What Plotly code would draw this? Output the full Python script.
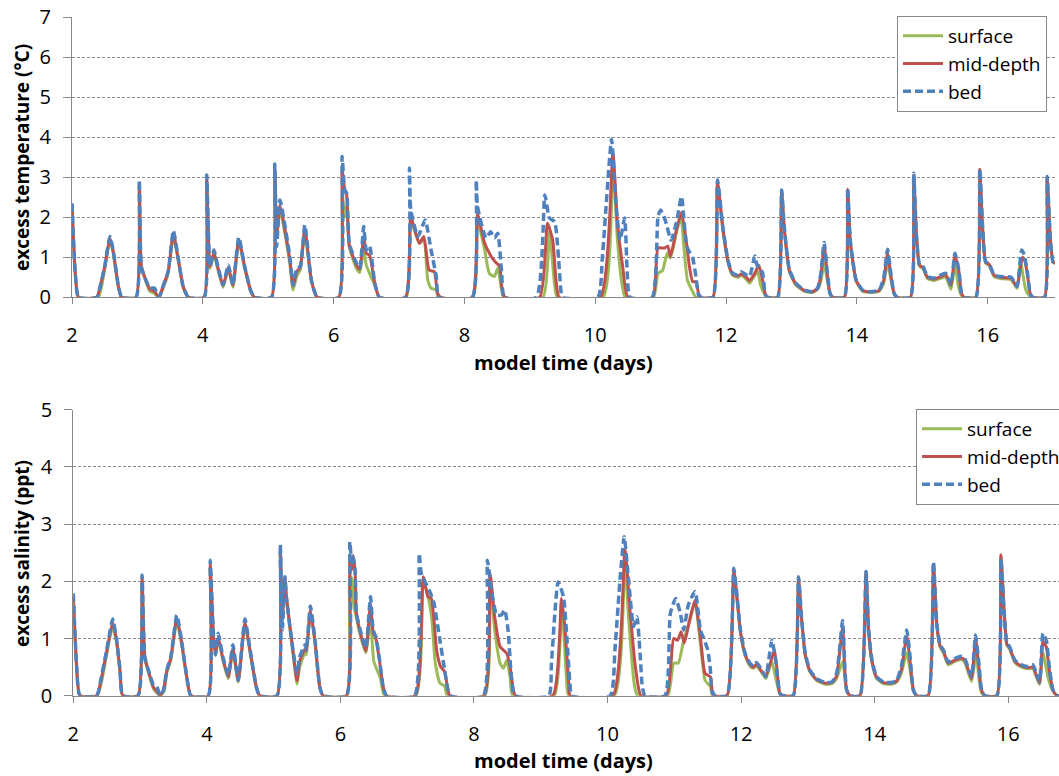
import plotly.graph_objects as go

# ---------------- data ----------------
temp_bed = [(2.0,2.35),(2.05,0.6),(2.1,0),(2.38,0),(2.43,0.27),(2.5,0.77),(2.58,1.52),(2.63,1.18),(2.71,0.27),(2.76,0),
 (2.98,0),(3.03,2.93),(3.06,0.77),(3.13,0.43),(3.19,0.23),(3.26,0.23),(3.33,0),(3.39,0.27),(3.47,0.64),(3.55,1.67),(3.62,1.02),(3.7,0.27),(3.78,0),
 (4.02,0),(4.06,3.06),(4.11,0.77),(4.17,1.18),(4.23,0.77),(4.31,0.31),(4.39,0.81),(4.46,0.31),(4.55,1.5),(4.64,0.77),(4.73,0.18),(4.79,0),
 (5.05,0),(5.1,3.33),(5.13,1.27),(5.18,2.43),(5.33,1.02),(5.38,0.3),(5.44,0.73),(5.49,0.77),(5.56,1.81),(5.66,0.43),(5.75,0),
 (6.08,0),(6.13,3.52),(6.17,2.68),(6.2,2.6),(6.24,1.35),(6.35,0.85),(6.4,0.73),(6.46,1.77),(6.5,1.18),(6.55,1.28),(6.63,0.35),(6.7,0),
 (7.1,0),(7.16,3.23),(7.18,2.18),(7.29,1.52),(7.4,1.93),(7.49,1.18),(7.57,0.52),(7.61,0),
 (8.12,0),(8.18,2.93),(8.2,2.27),(8.33,1.48),(8.4,1.64),(8.46,1.48),(8.51,1.6),(8.57,0.6),(8.61,0),
 (9.1,0),(9.23,2.56),(9.3,1.98),(9.38,1.89),(9.43,1.18),(9.48,0.1),(9.5,0),
 (10.04,0),(10.11,1.02),(10.25,3.95),(10.32,2.27),(10.38,1.43),(10.45,1.98),(10.49,0.6),(10.53,0),
 (10.87,0),(10.96,2.02),(11.0,2.18),(11.07,1.93),(11.16,1.43),(11.24,1.85),(11.32,2.52),(11.4,1.27),(11.49,0.98),(11.54,0.52),(11.58,0.06),(11.62,0),
 (11.8,0),(11.87,2.93),(11.95,1.77),(12.03,0.93),(12.1,0.6),(12.18,0.56),(12.23,0.64),(12.31,0.56),(12.36,0.52),(12.44,1.03),(12.48,0.78),(12.51,0.77),(12.56,0.6),(12.6,0.08),(12.64,0),
 (12.79,0),(12.85,2.68),(12.89,1.77),(12.97,0.68),(13.07,0.35),(13.2,0.18),(13.32,0.14),(13.4,0.23),(13.45,0.6),(13.5,1.37),(13.55,0.6),(13.59,0.1),(13.63,0),
 (13.81,0),(13.86,2.73),(13.9,1.43),(13.99,0.43),(14.09,0.18),(14.22,0.14),(14.34,0.18),(14.41,0.48),(14.47,1.2),(14.52,0.6),(14.57,0.1),(14.62,0),
 (14.82,0),(14.87,3.1),(14.91,1.6),(14.96,0.81),(15.01,0.78),(15.08,0.52),(15.18,0.48),(15.29,0.56),(15.36,0.6),(15.44,0.31),(15.5,1.1),(15.56,0.68),(15.6,0.1),(15.64,0),
 (15.82,0),(15.88,3.2),(15.92,1.85),(15.97,0.89),(16.02,0.85),(16.1,0.56),(16.2,0.52),(16.36,0.5),(16.45,0.27),(16.52,1.18),(16.56,1.06),(16.61,0.6),(16.65,0.1),(16.69,0),
 (16.87,0),(16.91,3.02),(16.96,1.43),(17.0,0.89),(17.03,0.86)]

temp_mid = [(2.0,2.3),(2.05,0.6),(2.1,0),(2.38,0),(2.43,0.27),(2.5,0.77),(2.58,1.48),(2.63,1.15),(2.71,0.27),(2.76,0),
 (2.98,0),(3.03,2.85),(3.06,0.77),(3.13,0.43),(3.19,0.2),(3.26,0.15),(3.33,0),(3.39,0.27),(3.47,0.64),(3.55,1.6),(3.62,1.0),(3.7,0.27),(3.78,0),
 (4.02,0),(4.06,2.95),(4.11,0.77),(4.17,1.12),(4.23,0.75),(4.31,0.3),(4.39,0.75),(4.46,0.3),(4.55,1.45),(4.64,0.77),(4.73,0.18),(4.79,0),
 (5.05,0),(5.1,3.2),(5.13,1.6),(5.18,2.3),(5.33,0.95),(5.38,0.28),(5.44,0.65),(5.49,0.75),(5.56,1.72),(5.66,0.43),(5.75,0),
 (6.08,0),(6.13,3.2),(6.17,2.68),(6.2,2.55),(6.24,1.3),(6.35,0.8),(6.4,0.7),(6.46,1.5),(6.5,1.1),(6.55,1.05),(6.63,0.35),(6.7,0),
 (7.1,0),(7.18,2.0),(7.31,1.35),(7.38,1.52),(7.46,0.68),(7.54,0.64),(7.59,0.1),(7.64,0),
 (8.12,0),(8.2,2.08),(8.31,1.35),(8.41,1.02),(8.48,0.87),(8.54,0.77),(8.57,0.27),(8.62,0),
 (9.15,0),(9.27,1.85),(9.35,1.43),(9.4,0.43),(9.45,0),
 (10.08,0),(10.27,3.6),(10.34,1.85),(10.42,0.77),(10.5,0),
 (10.88,0),(10.96,1.23),(11.06,1.23),(11.11,1.28),(11.15,1.02),(11.24,1.68),(11.32,2.12),(11.39,1.43),(11.44,0.77),(11.49,0.39),(11.54,0.39),(11.58,0.1),(11.62,0),
 (11.8,0),(11.87,2.9),(11.95,1.75),(12.03,0.9),(12.1,0.58),(12.18,0.53),(12.23,0.58),(12.31,0.5),(12.36,0.42),(12.44,0.6),(12.5,0.8),(12.55,0.5),(12.6,0.08),(12.64,0),
 (12.79,0),(12.85,2.65),(12.89,1.75),(12.97,0.66),(13.07,0.33),(13.2,0.17),(13.32,0.14),(13.4,0.22),(13.45,0.55),(13.5,1.3),(13.55,0.55),(13.59,0.1),(13.63,0),
 (13.81,0),(13.86,2.7),(13.9,1.4),(13.99,0.42),(14.09,0.17),(14.22,0.14),(14.34,0.17),(14.41,0.42),(14.47,1.1),(14.52,0.55),(14.57,0.1),(14.62,0),
 (14.82,0),(14.87,3.05),(14.91,1.58),(14.96,0.8),(15.01,0.75),(15.08,0.5),(15.18,0.45),(15.29,0.52),(15.36,0.56),(15.44,0.3),(15.5,1.05),(15.56,0.65),(15.6,0.1),(15.64,0),
 (15.82,0),(15.88,3.2),(15.92,1.83),(15.97,0.87),(16.02,0.83),(16.1,0.55),(16.2,0.5),(16.36,0.47),(16.45,0.27),(16.53,1.0),(16.57,0.9),(16.61,0.55),(16.65,0.1),(16.69,0),
 (16.87,0),(16.91,3.0),(16.96,1.43),(17.0,0.89),(17.03,0.86)]

temp_surface = [(2.0,2.25),(2.05,0.6),(2.1,0),(2.4,0),(2.45,0.25),(2.5,0.7),(2.58,1.42),(2.63,1.1),(2.71,0.25),(2.76,0),
 (2.98,0),(3.03,2.8),(3.06,0.75),(3.13,0.4),(3.19,0.15),(3.26,0.1),(3.33,0),(3.4,0.25),(3.47,0.6),(3.55,1.52),(3.62,0.95),(3.7,0.25),(3.78,0),
 (4.02,0),(4.06,2.9),(4.11,0.72),(4.17,1.05),(4.23,0.7),(4.31,0.25),(4.39,0.7),(4.46,0.25),(4.55,1.38),(4.64,0.72),(4.73,0.15),(4.79,0),
 (5.05,0),(5.1,3.1),(5.13,1.5),(5.18,2.2),(5.33,0.85),(5.38,0.18),(5.44,0.55),(5.49,0.68),(5.56,1.62),(5.66,0.4),(5.75,0),
 (6.08,0),(6.13,2.6),(6.17,2.0),(6.2,2.3),(6.24,1.25),(6.35,0.72),(6.4,0.62),(6.46,1.2),(6.5,0.8),(6.55,0.6),(6.63,0.3),(6.7,0),
 (7.11,0),(7.18,1.93),(7.31,1.35),(7.38,1.43),(7.44,0.43),(7.49,0.23),(7.57,0.18),(7.6,0),
 (8.13,0),(8.2,1.93),(8.31,1.18),(8.38,0.6),(8.46,0.52),(8.51,0.73),(8.57,0.18),(8.6,0),
 (9.2,0),(9.3,1.64),(9.38,0.3),(9.42,0),
 (10.12,0),(10.27,3.27),(10.34,1.43),(10.4,0.43),(10.46,0),
 (10.89,0),(10.96,0.6),(11.03,0.67),(11.1,1.1),(11.15,0.98),(11.24,1.6),(11.31,2.02),(11.36,1.18),(11.41,0.43),(11.49,0.14),(11.54,0),
 (11.8,0),(11.87,2.85),(11.95,1.7),(12.03,0.87),(12.1,0.55),(12.18,0.5),(12.23,0.55),(12.31,0.45),(12.36,0.35),(12.48,0.65),(12.53,0.3),(12.6,0.05),(12.64,0),
 (12.79,0),(12.85,2.6),(12.89,1.7),(12.97,0.63),(13.07,0.3),(13.2,0.15),(13.32,0.12),(13.4,0.2),(13.45,0.4),(13.5,0.85),(13.55,0.4),(13.59,0.08),(13.63,0),
 (13.81,0),(13.86,2.65),(13.9,1.35),(13.99,0.4),(14.09,0.15),(14.22,0.12),(14.34,0.15),(14.41,0.35),(14.47,0.85),(14.52,0.45),(14.57,0.08),(14.62,0),
 (14.82,0),(14.87,3.0),(14.91,1.55),(14.96,0.77),(15.01,0.72),(15.08,0.47),(15.18,0.42),(15.29,0.48),(15.36,0.5),(15.44,0.2),(15.5,0.85),(15.55,0.3),(15.6,0.05),(15.64,0),
 (15.82,0),(15.88,3.15),(15.92,1.8),(15.97,0.85),(16.02,0.8),(16.1,0.52),(16.2,0.47),(16.36,0.44),(16.45,0.22),(16.5,0.9),(16.58,0.2),(16.63,0.05),(16.69,0),
 (16.87,0),(16.91,2.95),(16.96,1.4),(17.0,0.87),(17.03,0.84)]

sal_bed = [(2.0,1.79),(2.05,0.5),(2.1,0),(2.35,0),(2.42,0.33),(2.5,0.8),(2.59,1.34),(2.65,0.97),(2.7,0.45),(2.74,0),
 (2.97,0),(3.03,2.11),(3.07,0.68),(3.14,0.39),(3.2,0.19),(3.25,0.16),(3.3,0),(3.35,0.1),(3.4,0.45),(3.46,0.68),(3.55,1.41),(3.62,0.97),(3.7,0.33),(3.76,0),
 (4.02,0),(4.05,2.37),(4.1,1.03),(4.13,0.71),(4.17,1.09),(4.24,0.68),(4.32,0.36),(4.39,0.89),(4.47,0.27),(4.57,1.34),(4.64,0.86),(4.74,0.16),(4.79,0),
 (5.05,0),(5.1,2.64),(5.13,1.15),(5.17,2.08),(5.19,1.73),(5.29,0.8),(5.35,0.39),(5.39,0.68),(5.47,0.89),(5.49,0.8),(5.55,1.57),(5.62,0.97),(5.69,0.16),(5.74,0),
 (6.09,0),(6.14,2.69),(6.17,2.31),(6.19,2.43),(6.22,2.2),(6.24,1.44),(6.31,1.09),(6.38,0.83),(6.45,1.73),(6.49,1.15),(6.53,1.03),(6.58,0.68),(6.64,0.16),(6.69,0),
 (7.11,0),(7.18,2.49),(7.21,2.14),(7.29,1.94),(7.35,1.79),(7.4,1.62),(7.49,0.97),(7.56,0.45),(7.6,0.16),(7.64,0),
 (8.14,0),(8.2,2.37),(8.26,1.85),(8.34,1.41),(8.41,1.41),(8.46,1.5),(8.51,1.15),(8.56,0.33),(8.61,0),
 (9.12,0),(9.16,0.57),(9.26,1.99),(9.34,1.73),(9.39,1.03),(9.44,0.16),(9.46,0),
 (10.04,0),(10.11,0.8),(10.19,2.08),(10.25,2.78),(10.31,2.08),(10.39,1.21),(10.44,1.38),(10.49,0.68),(10.52,0.16),(10.56,0),
 (10.86,0),(10.94,1.44),(11.02,1.7),(11.09,1.44),(11.14,1.15),(11.21,1.59),(11.31,1.82),(11.39,1.15),(11.44,1.0),(11.5,0.8),(11.54,0.45),(11.56,0.1),(11.61,0),
 (11.79,0),(11.89,2.23),(11.94,1.73),(11.99,1.15),(12.06,0.74),(12.13,0.57),(12.18,0.52),(12.23,0.58),(12.31,0.45),(12.37,0.33),(12.42,0.68),(12.46,0.97),(12.51,0.68),(12.55,0.27),(12.58,0.04),(12.63,0),
 (12.78,0),(12.86,2.08),(12.9,1.44),(12.96,0.74),(13.03,0.45),(13.13,0.3),(13.26,0.23),(13.36,0.24),(13.43,0.39),(13.52,1.31),(13.55,0.57),(13.58,0.1),(13.63,0),
 (13.78,0),(13.87,2.17),(13.91,1.15),(13.96,0.62),(14.03,0.33),(14.13,0.24),(14.25,0.23),(14.33,0.27),(14.4,0.51),(14.48,1.15),(14.53,0.68),(14.58,0.1),(14.63,0),
 (14.8,0),(14.88,2.34),(14.93,1.27),(14.98,0.89),(15.03,0.8),(15.1,0.59),(15.2,0.65),(15.3,0.69),(15.35,0.65),(15.45,0.33),(15.51,1.06),(15.56,0.57),(15.6,0.1),(15.65,0),
 (15.83,0),(15.89,2.4),(15.94,1.44),(15.98,0.92),(16.02,0.86),(16.1,0.62),(16.2,0.54),(16.3,0.51),(16.37,0.54),(16.42,0.39),(16.47,0.24),(16.52,1.09),(16.57,0.97),(16.62,0.45),(16.67,0.1),(16.72,0.01),(16.76,0)]

sal_mid = [(2.0,1.75),(2.05,0.5),(2.1,0),(2.35,0),(2.42,0.3),(2.5,0.78),(2.59,1.28),(2.65,0.95),(2.7,0.43),(2.74,0),
 (2.97,0),(3.03,2.05),(3.07,0.68),(3.14,0.37),(3.2,0.15),(3.25,0.08),(3.3,0),(3.35,0.1),(3.4,0.43),(3.46,0.66),(3.55,1.36),(3.62,0.95),(3.7,0.32),(3.76,0),
 (4.02,0),(4.05,2.3),(4.1,1.0),(4.13,0.75),(4.17,1.02),(4.24,0.65),(4.32,0.33),(4.39,0.82),(4.47,0.26),(4.57,1.28),(4.64,0.84),(4.74,0.16),(4.79,0),
 (5.05,0),(5.1,2.55),(5.13,1.4),(5.17,2.05),(5.19,1.75),(5.29,0.78),(5.35,0.26),(5.39,0.6),(5.47,0.82),(5.49,0.78),(5.55,1.5),(5.62,0.95),(5.69,0.16),(5.74,0),
 (6.09,0),(6.14,2.4),(6.17,2.2),(6.19,2.45),(6.22,2.15),(6.24,1.44),(6.31,1.05),(6.38,0.78),(6.45,1.6),(6.49,1.1),(6.53,1.0),(6.58,0.65),(6.64,0.16),(6.69,0),
 (7.12,0),(7.24,2.08),(7.31,1.73),(7.36,1.7),(7.44,0.8),(7.5,0.51),(7.56,0.42),(7.61,0.1),(7.64,0),
 (8.15,0),(8.24,2.14),(8.31,1.38),(8.39,0.86),(8.49,0.74),(8.54,0.51),(8.59,0.1),(8.62,0),
 (9.18,0),(9.31,1.7),(9.36,1.21),(9.42,0.2),(9.44,0),
 (10.08,0),(10.26,2.55),(10.34,1.44),(10.41,0.57),(10.48,0.05),(10.5,0),
 (10.88,0),(10.99,1.0),(11.05,0.97),(11.1,1.12),(11.15,0.92),(11.24,1.38),(11.31,1.67),(11.39,1.03),(11.46,0.39),(11.54,0.33),(11.57,0.05),(11.6,0),
 (11.79,0),(11.89,2.2),(11.94,1.7),(11.99,1.12),(12.06,0.72),(12.13,0.55),(12.18,0.5),(12.23,0.55),(12.31,0.42),(12.37,0.35),(12.42,0.5),(12.5,0.8),(12.55,0.3),(12.58,0.04),(12.63,0),
 (12.78,0),(12.86,2.06),(12.9,1.42),(12.96,0.72),(13.03,0.43),(13.13,0.28),(13.26,0.22),(13.36,0.23),(13.43,0.35),(13.52,1.2),(13.55,0.5),(13.58,0.1),(13.63,0),
 (13.78,0),(13.87,2.15),(13.91,1.13),(13.96,0.6),(14.03,0.32),(14.13,0.23),(14.25,0.22),(14.33,0.26),(14.4,0.45),(14.48,1.05),(14.53,0.6),(14.58,0.1),(14.63,0),
 (14.8,0),(14.88,2.3),(14.93,1.25),(14.98,0.87),(15.03,0.78),(15.1,0.57),(15.2,0.62),(15.3,0.66),(15.35,0.62),(15.45,0.3),(15.51,1.0),(15.56,0.5),(15.6,0.1),(15.65,0),
 (15.83,0),(15.89,2.46),(15.94,1.44),(15.98,0.9),(16.02,0.84),(16.1,0.6),(16.2,0.52),(16.3,0.49),(16.37,0.5),(16.42,0.36),(16.47,0.22),(16.52,0.95),(16.57,0.85),(16.62,0.4),(16.67,0.1),(16.72,0.01),(16.76,0)]

sal_surface = [(2.0,1.7),(2.05,0.5),(2.1,0),(2.36,0),(2.43,0.28),(2.5,0.72),(2.59,1.22),(2.65,0.9),(2.7,0.4),(2.74,0),
 (2.97,0),(3.03,2.0),(3.07,0.65),(3.14,0.35),(3.2,0.12),(3.25,0.05),(3.3,0),(3.36,0.08),(3.4,0.4),(3.46,0.62),(3.55,1.3),(3.62,0.9),(3.7,0.3),(3.76,0),
 (4.02,0),(4.05,2.25),(4.1,0.98),(4.13,0.72),(4.17,0.98),(4.24,0.62),(4.32,0.3),(4.39,0.78),(4.47,0.24),(4.57,1.25),(4.64,0.8),(4.74,0.14),(4.79,0),
 (5.05,0),(5.1,2.5),(5.13,1.35),(5.17,2.0),(5.19,1.7),(5.29,0.72),(5.35,0.2),(5.39,0.5),(5.47,0.75),(5.49,0.72),(5.55,1.45),(5.62,0.9),(5.69,0.14),(5.74,0),
 (6.09,0),(6.14,2.1),(6.17,2.05),(6.2,1.6),(6.24,1.35),(6.31,1.0),(6.38,0.75),(6.45,1.35),(6.5,0.6),(6.6,0.3),(6.66,0),
 (7.13,0),(7.24,2.02),(7.31,1.75),(7.37,1.32),(7.42,0.57),(7.49,0.22),(7.56,0.17),(7.6,0),
 (8.16,0),(8.24,2.02),(8.31,1.15),(8.39,0.57),(8.44,0.48),(8.49,0.62),(8.54,0.33),(8.58,0),
 (9.2,0),(9.31,1.62),(9.38,0.4),(9.42,0),
 (10.1,0),(10.26,2.37),(10.31,1.44),(10.4,0.2),(10.45,0),
 (10.9,0),(10.99,0.57),(11.06,0.57),(11.14,0.97),(11.24,1.35),(11.31,1.64),(11.39,0.92),(11.46,0.27),(11.54,0.16),(11.57,0),
 (11.79,0),(11.89,2.15),(11.94,1.65),(11.99,1.1),(12.06,0.7),(12.13,0.52),(12.18,0.48),(12.23,0.52),(12.31,0.4),(12.37,0.3),(12.46,0.6),(12.52,0.3),(12.58,0.03),(12.63,0),
 (12.78,0),(12.86,2.02),(12.9,1.4),(12.96,0.7),(13.03,0.42),(13.13,0.27),(13.26,0.2),(13.36,0.21),(13.43,0.3),(13.52,0.6),(13.55,0.35),(13.58,0.08),(13.63,0),
 (13.78,0),(13.87,2.12),(13.91,1.1),(13.96,0.58),(14.03,0.3),(14.13,0.21),(14.25,0.2),(14.33,0.24),(14.4,0.4),(14.48,0.75),(14.53,0.45),(14.58,0.08),(14.63,0),
 (14.8,0),(14.88,2.28),(14.93,1.22),(14.98,0.85),(15.03,0.75),(15.1,0.54),(15.2,0.6),(15.3,0.63),(15.35,0.58),(15.45,0.25),(15.52,0.75),(15.56,0.3),(15.6,0.05),(15.65,0),
 (15.83,0),(15.89,2.4),(15.94,1.42),(15.98,0.88),(16.02,0.82),(16.1,0.58),(16.2,0.5),(16.3,0.47),(16.37,0.48),(16.42,0.33),(16.47,0.2),(16.52,0.75),(16.6,0.3),(16.67,0.08),(16.72,0.01),(16.76,0)]

x_ticks = [2, 4, 6, 8, 10, 12, 14, 16]
series_names = ["surface", "mid-depth", "bed"]
series_colors = ["#9BBB59", "#C0504D", "#4F81BD"]

# ---------------- figure ----------------
W, H = 1059, 776
FONT = "Open Sans"
fig = go.Figure()

def add(series, name, color, xa, ya, leg, dashed):
    fig.add_trace(go.Scatter(
        x=[p[0] for p in series], y=[p[1] for p in series], name=name, mode="lines",
        line=dict(color=color, width=3.5 if dashed else 3, shape="spline", smoothing=0.5,
                  dash="8px,4px" if dashed else "solid"),
        xaxis=xa, yaxis=ya, legend=leg, hoverinfo="skip"))

add(temp_surface, series_names[0], series_colors[0], "x", "y", "legend", False)
add(temp_mid, series_names[1], series_colors[1], "x", "y", "legend", False)
add(temp_bed, series_names[2], series_colors[2], "x", "y", "legend", True)
add(sal_surface, series_names[0], series_colors[0], "x2", "y2", "legend2", False)
add(sal_mid, series_names[1], series_colors[1], "x2", "y2", "legend2", False)
add(sal_bed, series_names[2], series_colors[2], "x2", "y2", "legend2", True)

def px(v): return v / W
def py(v): return 1 - v / H

axis_common = dict(showline=True, linecolor="#868686", linewidth=1, zeroline=False,
                   ticks="outside", tickcolor="#868686", tickfont=dict(family=FONT, size=20, color="black"))
xcommon = dict(axis_common, showgrid=False, tickvals=x_ticks, ticklen=6, ticklabelstandoff=14)
ycommon = dict(axis_common, showgrid=True, gridcolor="#8a8a8a", griddash="3px,2px", gridwidth=1,
               dtick=1, ticklen=8, ticklabelstandoff=8)

legend_common = dict(xanchor="left", yanchor="top", bgcolor="white", bordercolor="#868686",
                     borderwidth=1, font=dict(family=FONT, size=19), tracegroupgap=0, itemwidth=40)

xtitle_font = dict(family=FONT, size=20, color="black")
ytitle_font = dict(family=FONT, size=19, color="black")

fig.update_layout(
    width=W, height=H, margin=dict(l=0, r=0, t=0, b=0, autoexpand=False),
    paper_bgcolor="white", plot_bgcolor="white",
    font=dict(family=FONT, color="black"),
    xaxis=dict(xcommon, domain=[px(72), px(1055)], range=[2, 17.03], anchor="y"),
    yaxis=dict(ycommon, domain=[py(297.3), py(17.3)], range=[0, 7], anchor="x"),
    xaxis2=dict(xcommon, domain=[px(73.3), 1.0], range=[2, 16.76], anchor="y2"),
    yaxis2=dict(ycommon, domain=[py(695.7), py(409.7)], range=[0, 5], anchor="x2"),
    legend=dict(legend_common, x=px(897), y=py(16)),
    legend2=dict(legend_common, x=px(916), y=py(409)),
    annotations=[
        dict(text="<b>excess temperature (°C)</b>", x=px(22), y=py(158), xref="paper", yref="paper",
             xanchor="center", yanchor="middle", textangle=-90, showarrow=False, font=ytitle_font),
        dict(text="<b>model time (days)</b>", x=px(563), y=py(362), xref="paper", yref="paper",
             xanchor="center", yanchor="middle", showarrow=False, font=xtitle_font),
        dict(text="<b>excess salinity (ppt)</b>", x=px(22), y=py(554), xref="paper", yref="paper",
             xanchor="center", yanchor="middle", textangle=-90, showarrow=False, font=ytitle_font),
        dict(text="<b>model time (days)</b>", x=px(563), y=py(760), xref="paper", yref="paper",
             xanchor="center", yanchor="middle", showarrow=False, font=xtitle_font),
    ],
)

fig.write_html("out.html", post_script="document.body.style.margin='0';",
               config={"displayModeBar": False})
